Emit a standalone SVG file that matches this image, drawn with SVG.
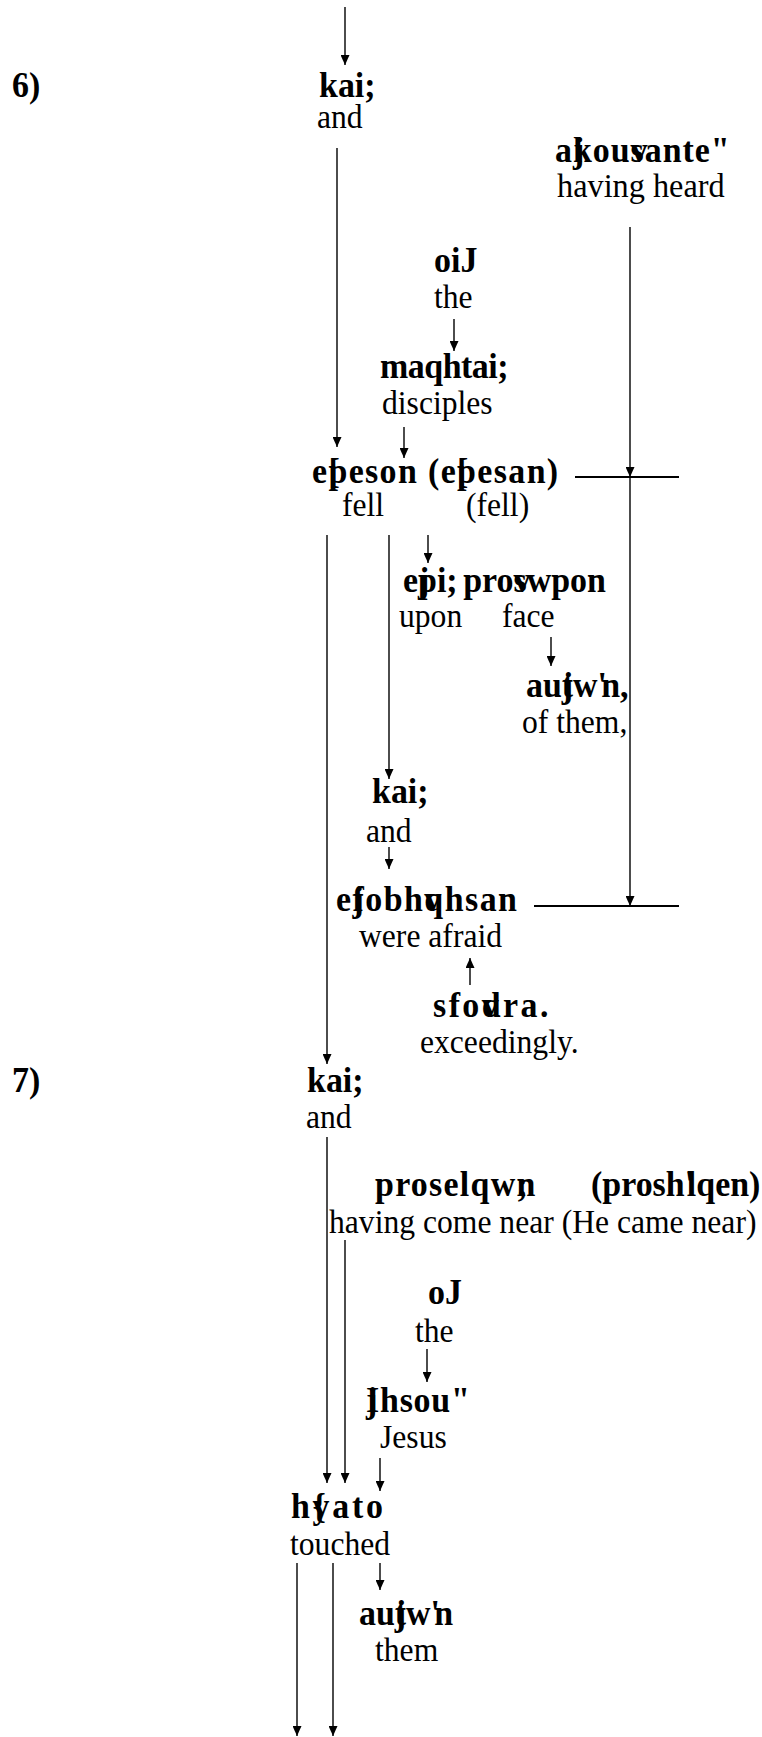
<svg xmlns="http://www.w3.org/2000/svg" width="762" height="1737" viewBox="0 0 762 1737">
<style>
.g{font-family:"Liberation Serif","Times New Roman",serif;font-weight:bold;font-size:35px;fill:#000}
.e{font-family:"Liberation Serif","Times New Roman",serif;font-size:34px;fill:#000}
.c line{stroke:#000;stroke-width:1.4;fill:none}
.c line.h{stroke-width:2}
.c line.a{marker-end:url(#ah)}
</style>
<defs>
<marker id="ah" markerUnits="userSpaceOnUse" markerWidth="10" markerHeight="9" refX="10" refY="4.5" orient="auto">
<path d="M0,0 L10,4.5 L0,9 z" fill="#000"/>
</marker>
</defs>
<rect width="762" height="1737" fill="#fff"/>
<g id="connectors" class="c">
<line class="a" x1="345" y1="7" x2="345" y2="65"/>
<line class="a" x1="337" y1="148" x2="337" y2="447"/>
<line class="a" x1="630" y1="227" x2="630" y2="477"/>
<line class="a" x1="630" y1="477" x2="630" y2="906"/>
<line class="h" x1="575" y1="477" x2="679" y2="477"/>
<line class="h" x1="534" y1="906" x2="679" y2="906"/>
<line class="a" x1="454" y1="319" x2="454" y2="351"/>
<line class="a" x1="404" y1="427" x2="404" y2="458"/>
<line class="a" x1="327" y1="535" x2="327" y2="1064"/>
<line class="a" x1="389" y1="535" x2="389" y2="779"/>
<line class="a" x1="428" y1="535" x2="428" y2="563"/>
<line class="a" x1="551" y1="637" x2="551" y2="666"/>
<line class="a" x1="389" y1="847" x2="389" y2="869"/>
<line class="a" x1="470" y1="985" x2="470" y2="958"/>
<line class="a" x1="327" y1="1137" x2="327" y2="1483"/>
<line class="a" x1="345" y1="1240" x2="345" y2="1483"/>
<line class="a" x1="427" y1="1349" x2="427" y2="1382"/>
<line class="a" x1="380" y1="1458" x2="380" y2="1491"/>
<line class="a" x1="297" y1="1563" x2="297" y2="1736"/>
<line class="a" x1="333" y1="1563" x2="333" y2="1736"/>
<line class="a" x1="380" y1="1563" x2="380" y2="1590"/>
</g>
<g id="v6"><text class="g" transform="translate(12 97) scale(0.97 1)">6)</text></g>
<g id="kai1"><text class="g" transform="translate(319 97) scale(0.97 1)">kai;</text><text class="e" transform="translate(317 128) scale(0.93 1)">and</text></g>
<g id="akousantes"><text class="g" transform="translate(555 162) scale(0.97 1)" letter-spacing="1">aj<tspan dx="-12.7">k</tspan>ouv<tspan dx="-18.5">s</tspan>ante&quot;</text><text class="e" transform="translate(557 197) scale(0.95 1)">having heard</text></g>
<g id="hoi"><text class="g" transform="translate(434 272) scale(0.97 1)">oiJ</text><text class="e" transform="translate(434 308) scale(0.93 1)">the</text></g>
<g id="mathetai"><text class="g" transform="translate(380 378) scale(0.97 1)" letter-spacing="-0.5">maqhtai;</text><text class="e" transform="translate(382 414) scale(0.93 1)">disciples</text></g>
<g id="epeson"><text class="g" transform="translate(312 483) scale(0.97 1)" letter-spacing="1.4">e[<tspan dx="-13.1">p</tspan>eson (e[<tspan dx="-13.1">p</tspan>esan)</text><text class="e" transform="translate(342 516) scale(0.93 1)">fell</text><text class="e" transform="translate(466 516) scale(0.93 1)">(fell)</text></g>
<g id="epi-prosopon"><text class="g" transform="translate(403 592) scale(0.97 1)">ej<tspan dx="-11.7">p</tspan>i;<tspan dx="-3"> </tspan>prov<tspan dx="-17.5">s</tspan>wpon</text><text class="e" transform="translate(399 627) scale(0.93 1)">upon</text><text class="e" transform="translate(502 627) scale(0.93 1)">face</text></g>
<g id="auton1"><text class="g" transform="translate(526 697) scale(0.97 1)">auj<tspan dx="-11.7">t</tspan>w'<tspan dx="-6">n</tspan>,</text><text class="e" transform="translate(522 733) scale(0.93 1)">of them,</text></g>
<g id="kai2"><text class="g" transform="translate(372 803) scale(0.97 1)">kai;</text><text class="e" transform="translate(366 842) scale(0.93 1)">and</text></g>
<g id="ephobethesan"><text class="g" transform="translate(336 911) scale(0.97 1)" letter-spacing="1.5">ej<tspan dx="-13.2">f</tspan>obhv<tspan dx="-19">q</tspan>hsan</text><text class="e" transform="translate(359 947) scale(0.93 1)">were afraid</text></g>
<g id="sphodra"><text class="g" transform="translate(433 1017) scale(0.97 1)" letter-spacing="2.5">sfov<tspan dx="-20">d</tspan>ra.</text><text class="e" transform="translate(420 1053) scale(0.93 1)">exceedingly.</text></g>
<g id="v7"><text class="g" transform="translate(12 1092) scale(0.97 1)">7)</text></g>
<g id="kai3"><text class="g" transform="translate(307 1092) scale(0.97 1)">kai;</text><text class="e" transform="translate(306 1128) scale(0.93 1)">and</text></g>
<g id="proselthon"><text class="g" transform="translate(375 1196) scale(0.97 1)" letter-spacing="1.3">proselqw;<tspan dx="-13">n</tspan></text><text class="g" transform="translate(591 1196) scale(0.97 1)">(prosh'<tspan dx="-7.5">l</tspan>qen)</text><text class="e" transform="translate(329 1233) scale(0.93 1)">having come near (He came near)</text></g>
<g id="ho"><text class="g" transform="translate(428 1304) scale(0.97 1)">oJ</text><text class="e" transform="translate(415 1342) scale(0.93 1)">the</text></g>
<g id="iesous"><text class="g" transform="translate(366 1412) scale(0.97 1)" letter-spacing="0.8">j<tspan dx="-12.5">I</tspan>hsou&quot;</text><text class="e" transform="translate(380 1448) scale(0.93 1)">Jesus</text></g>
<g id="hepsato"><text class="g" transform="translate(291 1518) scale(0.97 1)" letter-spacing="2.8">h{<tspan dx="-16.6">y</tspan>ato</text><text class="e" transform="translate(290 1555) scale(0.93 1)">touched</text></g>
<g id="auton2"><text class="g" transform="translate(359 1625) scale(0.97 1)">auj<tspan dx="-11.7">t</tspan>w'<tspan dx="-6">n</tspan></text><text class="e" transform="translate(375 1661) scale(0.93 1)">them</text></g>
</svg>
